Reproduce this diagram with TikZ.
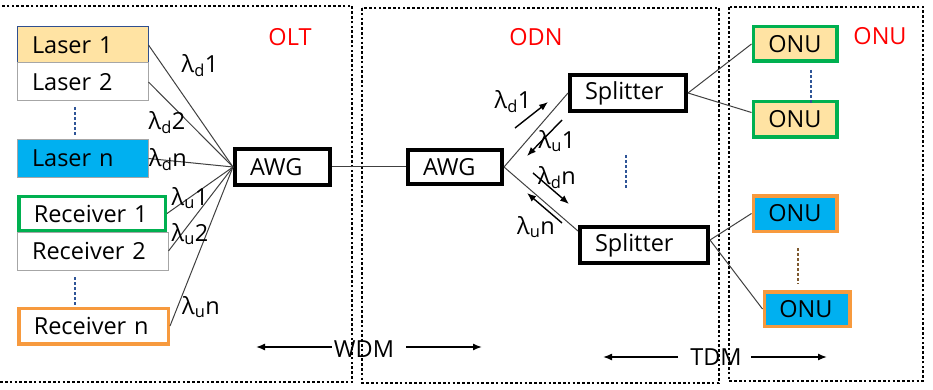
\documentclass[tikz,border=0pt]{standalone}
\usepackage{fontspec}
\setmainfont{Open Sans}
\usetikzlibrary{arrows.meta,calc}
\definecolor{lorange}{HTML}{FFE3A3}
\definecolor{lcyan}{HTML}{00B0F0}
\definecolor{lgreen}{HTML}{00B050}
\definecolor{borange}{HTML}{F79A3E}
\definecolor{conn}{HTML}{404040}
\definecolor{navy}{HTML}{2F4F8F}
\definecolor{gbord}{HTML}{A6A6A6}
\definecolor{dotblue}{HTML}{2F5597}
\definecolor{dotbrown}{HTML}{7F5A30}
\begin{document}
\begin{tikzpicture}[x=1pt,y=-1pt,
  font=\fontsize{23.5}{28}\selectfont,
  frame/.style={draw=black, line width=2.6pt, dash pattern=on 2.6pt off 2.2pt},
  box/.style={inner xsep=15pt, inner ysep=0pt, align=left},
  thinbox/.style={box, draw=gbord, line width=1pt},
  colbox/.style={box, draw=#1, line width=3.5pt},
  blkbox/.style={box, draw=black, line width=4pt},
  conn/.style={draw=conn, line width=1pt},
  lam/.style={inner sep=0pt},
  warr/.style={draw=black, line width=1.4pt, -{Latex[length=9pt,width=7pt]}},
  elli/.style={line width=2.8pt, dash pattern=on 2.6pt off 2.4pt}
]
\useasboundingbox (0,0) rectangle (933,390);

% frames
\draw[frame] (-3,6) rectangle (352,382);
\draw[frame] (362,8) rectangle (719,383);
\draw[frame] (729,7) rectangle (923,381);

% region labels
\node[text=red] (olt) at (290,37) {OLT};
\node[text=red] (odn) at (536,37) {ODN};
\node[text=red] (onu) at (880,36) {ONU};

% OLT boxes
\node[box, draw=navy, line width=1pt, fill=lorange, text width=101pt, minimum height=36pt] (L1) at (82.5,45) {Laser 1};
\node[thinbox, fill=white, text width=101pt, minimum height=38pt] (L2) at (82.5,82) {Laser 2};
\node[thinbox, fill=lcyan, text width=101pt, minimum height=37pt] (Ln) at (82.5,158.5) {Laser n};
\node[colbox=lgreen, fill=white, text width=116.5pt, minimum height=34.5pt] (R1) at (92,213.5) {Receiver 1};
\node[thinbox, fill=white, text width=121pt, minimum height=38pt] (R2) at (92.5,251) {Receiver 2};
\node[colbox=borange, fill=white, text width=119.5pt, minimum height=35.5pt] (Rn) at (93.5,326) {Receiver n};
\node[blkbox, text width=65pt, minimum height=36pt] (A1) at (282.5,167) {AWG};

\draw[elli, dotblue] (75,107) -- (75,136);
\draw[elli, dotblue] (75,277) -- (75,306);

% OLT fan
\draw[conn] (L1.east) -- (A1.west);
\draw[conn] (L2.east) -- (A1.west);
\draw[conn] (Ln.east) -- (A1.west);
\draw[conn] (R1.east) -- (A1.west);
\draw[conn] (R2.east) -- (A1.west);
\draw[conn] (Rn.east) -- (A1.west);

\node[lam] (ld1) at (200,66) {λ\textsubscript{d}1};
\node[lam] (ld2) at (167,123) {λ\textsubscript{d}2};
\node[lam] (ldn) at (168,160) {λ\textsubscript{d}n};
\node[lam] (lu1) at (190,198) {λ\textsubscript{u}1};
\node[lam] (lu2) at (190,234) {λ\textsubscript{u}2};
\node[lam] (lun) at (201,307) {λ\textsubscript{u}n};

% ODN
\node[blkbox, text width=64pt, minimum height=34pt] (A2) at (455,167) {AWG};
\node[blkbox, text width=86pt, minimum height=36pt] (S1) at (628,93) {Splitter};
\node[blkbox, text width=98pt, minimum height=36pt] (S2) at (644,245) {Splitter};
\draw[conn] (A1.east) -- (A2.west);
\draw[conn] (A2.east) -- (S1.west);
\draw[conn] (A2.east) -- ($(S2.north west)+(0,6)$);

\coordinate (d1s) at (515,128); \coordinate (d1e) at (548,102);
\coordinate (u1s) at (562,120); \coordinate (u1e) at (527,156);
\coordinate (dns) at (533,173); \coordinate (dne) at (569,204);
\coordinate (uns) at (562,223); \coordinate (une) at (527,193);
\draw[warr] (d1s) -- (d1e);
\draw[warr] (u1s) -- (u1e);
\draw[warr] (dns) -- (dne);
\draw[warr] (uns) -- (une);
\node[lam] (od1) at (513,102) {λ\textsubscript{d}1};
\node[lam] (ou1) at (557,141) {λ\textsubscript{u}1};
\node[lam] (odn2) at (557,178) {λ\textsubscript{d}n};
\node[lam] (oun) at (536,227) {λ\textsubscript{u}n};
\draw[elli, dotblue] (626,155) -- (626,189);

% ONU
\node[colbox=lgreen, fill=lorange, text width=53.5pt, minimum height=34.5pt] (O1) at (795,44) {ONU};
\node[colbox=lgreen, fill=lorange, text width=53.5pt, minimum height=35.5pt] (O2) at (795,119.5) {ONU};
\node[colbox=borange, fill=lcyan, text width=53.5pt, minimum height=35.5pt] (O3) at (795,213.5) {ONU};
\node[colbox=borange, fill=lcyan, text width=55.5pt, minimum height=34.5pt] (O4) at (807,309) {ONU};
\draw[elli, dotblue] (811,70) -- (811,104);
\draw[elli, dotbrown] (798,248) -- (798,284);
\draw[conn] (S1.east) -- (O1.west);
\draw[conn] (S1.east) -- ($(O2.west)+(0,-7)$);
\draw[conn] ($(S2.east)+(0,-5)$) -- (O3.west);
\draw[conn] ($(S2.east)+(0,-5)$) -- (O4.west);

% WDM / TDM
\node[inner sep=0pt] (wdm) at (364,349) {WDM};
\coordinate (wl) at (256,347); \coordinate (wr) at (482,347);
\draw[warr] ($(wdm.west |- wl)+(-2,0)$) -- (wl);
\draw[warr] ($(wdm.east |- wr)+(12,0)$) -- (wr);
\node[inner sep=0pt] (tdm) at (716,357) {TDM};
\coordinate (tl) at (603,357); \coordinate (tr) at (827,357);
\draw[warr] ($(tdm.west |- tl)+(-12,0)$) -- (tl);
\draw[warr] ($(tdm.east |- tr)+(9,0)$) -- (tr);
\end{tikzpicture}
\end{document}
